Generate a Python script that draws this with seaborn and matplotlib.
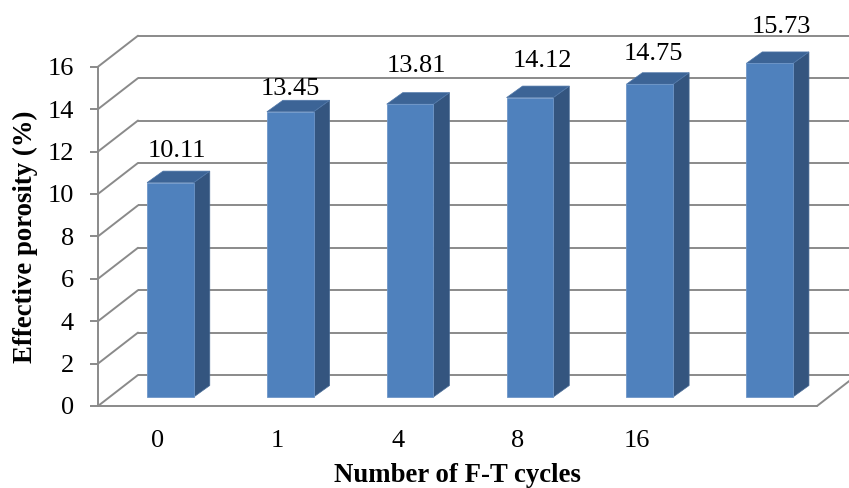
import matplotlib
matplotlib.use("Agg")
import matplotlib.pyplot as plt
from matplotlib.patches import Polygon
import pandas as pd
import seaborn as sns

# Effective porosity after freeze-thaw cycling
cycles = ["0", "1", "4", "8", "16", ""]
porosity = [10.11, 13.45, 13.81, 14.12, 14.75, 15.73]
y_ticks = [0, 2, 4, 6, 8, 10, 12, 14, 16]

# value-label placement: (pixels right, pixels up) from each bar's front top edge
label_nudge = [(7, 26), (0, 17), (6, 32), (13, 31), (3.5, 24), (12, 30.5)]

sns.set_theme(style="white")
plt.rcParams["font.family"] = ["Liberation Serif", "DejaVu Serif"]

W, H, DPI = 849, 488, 100
fig = plt.figure(figsize=(W / DPI, H / DPI), dpi=DPI)
fig.patch.set_facecolor("white")

# axes = front plane of the pseudo-3D box
x_left, x_right, y_base, y_top = 98, 817, 406, 66.7
ax = fig.add_axes([x_left / W, 1 - y_base / H, (x_right - x_left) / W, (y_base - y_top) / H])
ax.set_facecolor("none")

df = pd.DataFrame({"cycles": cycles, "porosity": porosity})
sns.barplot(data=df, x="cycles", y="porosity", order=cycles, color="#4F81BD",
            saturation=1, width=0.39, errorbar=None, ax=ax, zorder=3,
            edgecolor="#6E96C8", linewidth=0.6)

ax.set_xlim(-0.5, 5.5)
ax.set_ylim(0, 16)

# pixel -> data unit conversions for depth offsets
sx = (x_right - x_left) / 6
sy = (y_base - y_top) / 16
bar_dx, bar_dy = 12.5 / sx, 9 / sy        # bar front plane
back_dx, back_dy = 40 / sx, 31 / sy       # back wall
dep_dx, dep_dy = 16 / sx, 11.5 / sy       # bar depth

grid_c = "#8A8A8A"
glw = 1.4

# back wall and side wall gridlines
for t in y_ticks:
    ax.plot([-0.5 + back_dx, 5.5 + back_dx], [t + back_dy] * 2, color=grid_c,
            lw=glw, clip_on=False, zorder=1, solid_capstyle="butt")
    ax.plot([-0.5, -0.5 + back_dx], [t, t + back_dy], color=grid_c,
            lw=glw, clip_on=False, zorder=1)
# floor edges
ax.plot([-0.5, 5.5], [0, 0], color=grid_c, lw=glw, clip_on=False, zorder=1)
ax.plot([5.5, 5.5 + back_dx], [0, back_dy], color=grid_c, lw=glw, clip_on=False, zorder=1)

side_c, top_c = "#34557F", "#3C6496"
bars = list(ax.patches)
for p, (nx, ny) in zip(bars, label_nudge):
    x0 = p.get_x() + bar_dx
    w = p.get_width()
    h = p.get_height()
    p.set_x(x0)
    p.set_y(bar_dy)
    p.set_clip_on(False)
    base, top = bar_dy, bar_dy + h
    x1 = x0 + w
    side = Polygon([(x1, base), (x1 + dep_dx, base + dep_dy),
                    (x1 + dep_dx, top + dep_dy), (x1, top)],
                   closed=True, facecolor=side_c, edgecolor="#4A6D98",
                   linewidth=0.5, zorder=2.9, clip_on=False)
    lid = Polygon([(x0, top), (x1, top), (x1 + dep_dx, top + dep_dy),
                   (x0 + dep_dx, top + dep_dy)],
                  closed=True, facecolor=top_c, edgecolor="#5279AA",
                  linewidth=0.5, zorder=2.9, clip_on=False)
    ax.add_patch(side)
    ax.add_patch(lid)
    ax.annotate(f"{h:.2f}", xy=(x0 + w / 2, top), xytext=(nx, ny),
                textcoords="offset pixels", ha="center", va="baseline",
                fontsize=19, color="black", annotation_clip=False, zorder=5)

# axes styling
for s in ["top", "right", "bottom"]:
    ax.spines[s].set_visible(False)
ax.spines["left"].set_color(grid_c)
ax.spines["left"].set_linewidth(glw)
ax.set_yticks(y_ticks)
ax.set_yticklabels([str(t) for t in y_ticks])
ax.set_xticks(range(len(cycles)))
ax.set_xticklabels(cycles)
ax.tick_params(axis="y", which="major", left=True, direction="out", length=5.8,
               width=glw, color=grid_c, labelsize=19, pad=11.5, labelcolor="black")
ax.tick_params(axis="x", which="major", bottom=False, length=0, labelsize=19,
               pad=17.5, labelcolor="black")
ax.set_xlabel("")
ax.set_ylabel("")
ax.grid(False)

fig.text(25 / W, 1 - 237 / H, "Effective porosity (%)", rotation=90, ha="center",
         va="center", fontsize=19.3, fontweight="bold", color="black")
fig.text(457 / W, 1 - 475.5 / H, "Number of F-T cycles", ha="center", va="center",
         fontsize=19.3, fontweight="bold", color="black")

fig.savefig("out.png", dpi=DPI, facecolor="white")
